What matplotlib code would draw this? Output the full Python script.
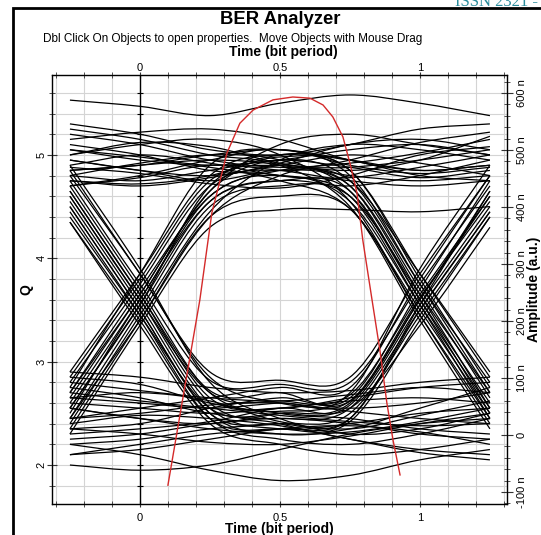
import matplotlib
matplotlib.use("Agg")
import matplotlib.pyplot as plt
import numpy as np
from matplotlib.path import Path
from matplotlib.patches import PathPatch, Rectangle
from matplotlib.ticker import MultipleLocator, FuncFormatter

plt.rcParams['font.family'] = ['Liberation Sans', 'DejaVu Sans']

# sample times (bit period) of each eye trace
t_samples = [-0.25, 0.0, 0.25, 0.5, 0.75, 1.0, 1.25]

# Q value of each trace at t_samples, grouped by bit pattern
high_steady = [
    [5.53, 5.47, 5.38, 5.50, 5.58, 5.50, 5.38],
    [5.30, 5.20, 5.05, 5.00, 5.10, 5.25, 5.30],
    [5.15, 5.22, 5.25, 5.15, 4.95, 4.85, 4.90],
    [5.05, 4.98, 4.90, 4.95, 5.05, 5.10, 5.00],
    [4.95, 4.85, 4.80, 4.90, 5.00, 4.92, 4.80],
    [4.85, 4.90, 5.00, 5.05, 4.95, 4.80, 4.75],
    [4.80, 4.75, 4.85, 4.95, 4.88, 4.78, 4.85],
    [4.70, 4.78, 4.90, 4.85, 4.75, 4.70, 4.75],
    [4.90, 5.00, 4.92, 4.80, 4.78, 4.88, 5.00],
    [5.20, 5.10, 4.95, 4.88, 4.92, 5.02, 5.15],
    [4.75, 4.70, 4.78, 4.92, 5.10, 5.15, 5.05],
    [5.00, 5.12, 5.08, 4.92, 4.85, 4.95, 5.18],
    [4.88, 4.82, 4.72, 4.68, 4.80, 5.00, 5.08],
]
low_steady = [
    [2.90, 2.85, 2.75, 2.70, 2.72, 2.80, 2.85],
    [2.60, 2.55, 2.50, 2.55, 2.62, 2.65, 2.60],
    [2.45, 2.50, 2.58, 2.60, 2.52, 2.45, 2.40],
    [2.25, 2.30, 2.40, 2.45, 2.40, 2.30, 2.25],
    [2.10, 2.15, 2.25, 2.35, 2.38, 2.32, 2.20],
    [2.00, 1.95, 2.00, 2.15, 2.30, 2.40, 2.45],
    [2.35, 2.30, 2.22, 2.20, 2.28, 2.40, 2.50],
    [2.70, 2.62, 2.55, 2.48, 2.42, 2.38, 2.40],
    [2.55, 2.45, 2.35, 2.30, 2.32, 2.42, 2.55],
    [2.20, 2.10, 1.95, 1.85, 1.90, 2.05, 2.15],
    [2.80, 2.72, 2.65, 2.62, 2.68, 2.75, 2.70],
    [2.40, 2.48, 2.45, 2.38, 2.25, 2.12, 2.05],
    [2.65, 2.70, 2.62, 2.42, 2.35, 2.48, 2.62],
]
rise_stay = [
    [2.55, 3.55, 4.70, 5.00, 4.95, 4.85, 4.90],
    [2.70, 3.70, 4.60, 4.85, 4.88, 4.95, 5.05],
    [2.40, 3.45, 4.45, 4.95, 5.10, 5.05, 4.95],
    [2.85, 3.80, 4.75, 4.90, 4.80, 4.75, 4.80],
    [2.50, 3.60, 4.55, 4.75, 4.70, 4.80, 4.95],
    [2.30, 3.35, 4.30, 4.47, 4.47, 4.45, 4.50],
    [2.65, 3.65, 4.65, 5.10, 5.20, 5.10, 5.00],
    [2.75, 3.85, 4.90, 5.05, 4.90, 4.82, 4.88],
    [2.45, 3.40, 4.40, 4.80, 4.95, 5.12, 5.22],
]
high_fall = [
    [4.85, 4.90, 4.95, 4.90, 4.70, 3.65, 2.55],
    [5.10, 5.00, 4.85, 4.80, 4.60, 3.55, 2.45],
    [4.70, 4.80, 4.95, 5.05, 4.80, 3.75, 2.70],
    [5.00, 5.10, 5.15, 5.00, 4.55, 3.45, 2.40],
    [4.95, 4.85, 4.75, 4.85, 4.75, 3.85, 2.90],
    [4.80, 4.92, 5.00, 4.95, 4.65, 3.60, 2.60],
    [5.25, 5.15, 5.00, 4.90, 4.50, 3.40, 2.35],
    [4.75, 4.72, 4.80, 4.98, 4.85, 3.80, 2.75],
    [5.05, 4.95, 4.88, 4.75, 4.48, 3.50, 2.50],
]
rise_fall = [
    [2.60, 3.60, 4.60, 4.80, 4.55, 3.55, 2.55],
    [2.45, 3.50, 4.50, 4.70, 4.60, 3.65, 2.70],
    [2.80, 3.75, 4.70, 4.85, 4.70, 3.70, 2.65],
    [2.35, 3.40, 4.40, 4.60, 4.48, 3.45, 2.45],
    [2.70, 3.65, 4.65, 4.95, 4.75, 3.75, 2.80],
    [2.55, 3.55, 4.55, 4.75, 4.65, 3.60, 2.50],
    [2.90, 3.85, 4.80, 5.00, 4.85, 3.85, 2.85],
]
fall_rise = [
    [4.60, 3.60, 2.70, 2.62, 2.68, 3.65, 4.60],
    [4.40, 3.45, 2.55, 2.50, 2.58, 3.55, 4.50],
    [4.75, 3.75, 2.82, 2.78, 2.80, 3.75, 4.70],
    [4.50, 3.50, 2.50, 2.40, 2.45, 3.50, 4.45],
    [4.65, 3.65, 2.72, 2.70, 2.62, 3.60, 4.65],
    [4.35, 3.40, 2.45, 2.35, 2.42, 3.40, 4.40],
    [4.85, 3.85, 2.90, 2.82, 2.85, 3.85, 4.80],
]
fall_stay = [
    [4.55, 3.55, 2.55, 2.35, 2.40, 2.50, 2.55],
    [4.70, 3.70, 2.70, 2.50, 2.45, 2.35, 2.30],
    [4.45, 3.45, 2.45, 2.25, 2.20, 2.30, 2.45],
    [4.80, 3.85, 2.85, 2.60, 2.55, 2.60, 2.70],
    [4.60, 3.60, 2.60, 2.40, 2.25, 2.15, 2.10],
    [4.35, 3.35, 2.40, 2.20, 2.10, 2.15, 2.25],
    [4.65, 3.65, 2.65, 2.55, 2.65, 2.75, 2.80],
    [4.90, 3.90, 2.80, 2.45, 2.30, 2.35, 2.50],
    [4.50, 3.50, 2.50, 2.30, 2.35, 2.55, 2.75],
]
low_rise = [
    [2.55, 2.45, 2.40, 2.50, 2.60, 3.60, 4.60],
    [2.35, 2.40, 2.55, 2.65, 2.65, 3.70, 4.75],
    [2.75, 2.65, 2.50, 2.45, 2.55, 3.50, 4.45],
    [2.20, 2.25, 2.35, 2.40, 2.50, 3.45, 4.40],
    [2.45, 2.55, 2.65, 2.75, 2.75, 3.80, 4.80],
    [2.65, 2.60, 2.55, 2.60, 2.62, 3.62, 4.55],
    [2.10, 2.20, 2.30, 2.35, 2.45, 3.55, 4.65],
    [2.85, 2.78, 2.60, 2.52, 2.70, 3.90, 4.90],
    [2.30, 2.35, 2.42, 2.55, 2.55, 3.35, 4.30],
]

# amplitude curve (right axis, units of n)
amp_t = [0.100, 0.157, 0.214, 0.257, 0.311, 0.357, 0.404, 0.475, 0.546, 0.607,
         0.654, 0.689, 0.725, 0.750, 0.775, 0.796, 0.829, 0.857, 0.882, 0.904, 0.929]
amp_val = [-88, 75, 237, 390, 495, 547, 570, 588, 593, 591,
           579, 558, 523, 477, 425, 342, 237, 149, 56, -9, -70]

time_ticks = [0, 0.5, 1]
time_labels = ['0', '0.5', '1']


def smooth_path(xs, ys):
    # cubic bezier through the samples, drawn by matplotlib
    xs = np.asarray(xs, float)
    ys = np.asarray(ys, float)
    m = np.gradient(ys, xs)
    verts = [(xs[0], ys[0])]
    codes = [Path.MOVETO]
    for i in range(len(xs) - 1):
        h = xs[i + 1] - xs[i]
        verts += [(xs[i] + h / 3, ys[i] + m[i] * h / 3),
                  (xs[i + 1] - h / 3, ys[i + 1] - m[i + 1] * h / 3),
                  (xs[i + 1], ys[i + 1])]
        codes += [Path.CURVE4] * 3
    return Path(verts, codes)


W, H = 541, 535
fig = plt.figure(figsize=(W / 100, H / 100), dpi=100)
ax = fig.add_axes([52 / W, 1 - 504 / H, 455 / W, 429 / H])

grid_c = '#d4d4d4'
ax.set_xlim(-0.314, 1.311)
ax.set_ylim(1.623, 5.773)
ax.xaxis.set_major_locator(MultipleLocator(0.5))
ax.xaxis.set_minor_locator(MultipleLocator(0.1))
ax.yaxis.set_major_locator(MultipleLocator(1))
ax.yaxis.set_minor_locator(MultipleLocator(0.2))
ax.grid(True, which='both', color=grid_c, lw=0.8)
ax.set_axisbelow(True)

for group in [high_steady, low_steady, rise_stay, high_fall,
              rise_fall, fall_rise, fall_stay, low_rise]:
    for tr in group:
        ax.add_patch(PathPatch(smooth_path(t_samples, tr), fill=False,
                               edgecolor='black', lw=0.9, zorder=2))

# zero time line with its small marks
ax.axvline(0, color='black', lw=1, zorder=3)
qmarks = np.arange(1.8, 5.8, 0.2)
ax.plot(np.zeros_like(qmarks), qmarks, ls='none', marker='_', ms=4,
        color='black', mew=0.8, zorder=3)

ax.tick_params(axis='both', which='both', direction='inout', colors='#333333',
               labelcolor='black', labelsize=8)
ax.tick_params(axis='x', which='both', top=True, labeltop=False)
ax.tick_params(axis='x', which='major', length=5, pad=4)
ax.tick_params(axis='x', which='minor', length=4)
ax.tick_params(axis='y', which='major', length=7, pad=0.5)
ax.tick_params(axis='y', which='minor', length=4)
ax.set_xticks(time_ticks)
ax.set_xticklabels(time_labels)
for lab in ax.get_yticklabels():
    lab.set_rotation(90)
    lab.set_va('center')
ax.set_ylabel('Q', fontsize=10, fontweight='bold')
ax.yaxis.set_label_coords((33 - 52) / 455, 0.5)
ax.set_xlabel('Time (bit period)', fontsize=10, fontweight='bold')
ax.xaxis.set_label_coords(0.5, (504 - 529.5) / 429)
ax.xaxis.label.set_va('center')
for sp in ax.spines.values():
    sp.set_color('#333333')
    sp.set_linewidth(1)

top = ax.secondary_xaxis('top')
top.set_xticks(time_ticks)
top.set_xticklabels(time_labels)
top.tick_params(length=0, pad=1.5, labelsize=8)
top.spines['top'].set_visible(False)

ax2 = ax.twinx()
ax2.set_ylim(-121, 631.6)
ax2.yaxis.set_major_locator(MultipleLocator(100))
ax2.yaxis.set_minor_locator(MultipleLocator(20))
ax2.yaxis.set_major_formatter(FuncFormatter(
    lambda v, p: '0' if abs(v) < 1e-9 else f'{int(round(v))} n'))
ax2.tick_params(axis='y', which='both', direction='inout', colors='#333333',
                labelcolor='black', labelsize=8, labelrotation=90)
ax2.tick_params(axis='y', which='major', length=8, pad=3)
ax2.tick_params(axis='y', which='minor', length=4)
for lab in ax2.get_yticklabels():
    lab.set_va('center')
ax2.set_ylabel('Amplitude (a.u.)', fontsize=10, fontweight='bold',
               rotation=90)
ax2.yaxis.set_label_coords((527 - 52) / 455, 0.5)
ax2.plot(amp_t, amp_val, color='#d42a2a', lw=1.0, zorder=4)

# top axis label and titles
fig.text(283 / W, 1 - 52 / H, 'Time (bit period)', ha='center',
         va='center', fontsize=10, fontweight='bold')
fig.text(280 / W, 1 - 20 / H, 'BER Analyzer', ha='center', va='center',
         fontsize=13.3, fontweight='bold')
fig.text(43 / W, 1 - 39 / H,
         'Dbl Click On Objects to open properties.  Move Objects with Mouse Drag',
         ha='left', va='center', fontsize=8.5)

# outer frame and page header fragment
fig.patches.append(Rectangle((13 / W, -0.1), 1.2, 1.1 - 8 / H,
                             transform=fig.transFigure, fill=False,
                             edgecolor='black', lw=2))
fig.text(455 / W, 1 - 6 / H, 'ISSN 2321 -', color='#2a8c9c',
         fontsize=12, family='Liberation Serif', va='baseline', ha='left')

fig.savefig('out.png', dpi=100)
